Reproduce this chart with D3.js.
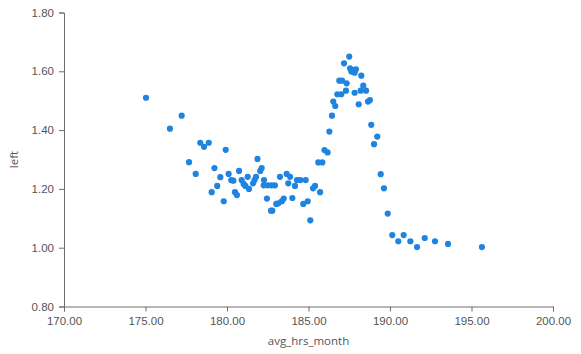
<!DOCTYPE html>
<html>
<head>
<meta charset="utf-8">
<script src="https://cdn.jsdelivr.net/npm/d3@7"></script>
<style>
  body { margin: 0; background: #fff; }
  svg { display: block; font-family: 'Open Sans', 'Noto Sans', sans-serif; }
  .tick text { fill: #555; font-size: 11.5px; }
  .axis path, .axis line { stroke: #6f6f6f; }
</style>
</head>
<body>
<svg id="chart" width="581" height="354"></svg>
<script>
// avg_hrs_month vs left
const hrs = [
  175.03, 177.22, 176.50, 178.36, 178.88, 178.59, 179.92, 177.67, 179.23, 178.08,
  180.10, 180.74, 179.59, 180.26, 180.39, 180.90, 179.40, 181.02, 181.13, 179.06,
  180.49, 180.61, 179.80, 181.87, 182.13, 182.04, 181.27, 181.78, 181.69, 181.60,
  181.35, 182.27, 182.25, 182.50, 182.74, 182.94, 183.25, 183.66, 183.87, 183.76,
  184.29, 184.50, 184.83, 184.17, 185.40, 185.28, 185.71, 182.45, 183.48, 183.36,
  183.02, 183.15, 184.01, 184.95, 184.68, 182.70, 182.78, 185.11, 185.60, 185.85,
  185.98, 186.17, 187.50, 187.18, 187.55, 187.75, 187.91, 187.63, 187.83, 188.24,
  186.89, 187.06, 187.34, 188.36, 187.30, 188.20, 188.53, 187.83, 186.77, 187.01,
  188.65, 188.77, 186.52, 186.64, 188.08, 186.44, 188.85, 186.28, 189.22, 189.02,
  189.43, 189.63, 189.86, 190.14, 190.51, 190.84, 191.25, 191.66, 192.13, 192.76,
  193.56, 195.64
]
const left = [
  1.510, 1.449, 1.405, 1.357, 1.357, 1.343, 1.333, 1.291, 1.271, 1.251,
  1.251, 1.261, 1.240, 1.230, 1.228, 1.230, 1.210, 1.217, 1.210, 1.189,
  1.189, 1.179, 1.158, 1.302, 1.271, 1.261, 1.241, 1.241, 1.230, 1.219,
  1.200, 1.230, 1.212, 1.212, 1.212, 1.212, 1.241, 1.251, 1.241, 1.219,
  1.230, 1.230, 1.230, 1.210, 1.210, 1.202, 1.189, 1.167, 1.167, 1.158,
  1.149, 1.151, 1.169, 1.158, 1.149, 1.126, 1.126, 1.093, 1.290, 1.290,
  1.332, 1.324, 1.650, 1.627, 1.610, 1.604, 1.607, 1.599, 1.595, 1.585,
  1.568, 1.568, 1.559, 1.551, 1.534, 1.534, 1.534, 1.527, 1.522, 1.522,
  1.497, 1.502, 1.497, 1.482, 1.488, 1.449, 1.418, 1.395, 1.378, 1.352,
  1.250, 1.202, 1.116, 1.043, 1.022, 1.043, 1.022, 1.002, 1.033, 1.022,
  1.013, 1.002
]
const xTicks = [170, 175, 180, 185, 190, 195, 200]
const yTicks = [0.8, 1.0, 1.2, 1.4, 1.6, 1.8]

const svg = d3.select('#chart')
const margin = { top: 12.5, right: 28, bottom: 47.5, left: 64 }
const width = 581 - margin.left - margin.right
const height = 354 - margin.top - margin.bottom

const x = d3.scaleLinear().domain([170, 200]).range([0, width])
const y = d3.scaleLinear().domain([0.8, 1.8]).range([height, 0])

const g = svg.append('g')
  .attr('transform', 'translate(' + [margin.left, margin.top].join(',') + ')')

g.append('g')
  .attr('class', 'axis')
  .attr('transform', 'translate(0,' + height + ')')
  .call(d3.axisBottom(x).tickValues(xTicks).tickFormat(d3.format('.2f')).tickSizeOuter(0).tickSize(5).tickPadding(5))

g.append('g')
  .attr('class', 'axis')
  .call(d3.axisLeft(y).tickValues(yTicks).tickFormat(d3.format('.2f')).tickSizeOuter(0).tickSize(5).tickPadding(5))

g.selectAll('circle.dot')
  .data(hrs.map((h, i) => ({ h: h, l: left[i] })))
  .join('circle')
  .attr('class', 'dot')
  .attr('cx', d => x(d.h))
  .attr('cy', d => y(d.l))
  .attr('r', 3.1)
  .attr('fill', '#1f84e0')

// axis titles
svg.append('text')
  .attr('x', margin.left + width / 2)
  .attr('y', 345)
  .attr('text-anchor', 'middle')
  .attr('fill', '#555')
  .style('font-size', '11.5px')
  .text('avg_hrs_month')

svg.append('text')
  .attr('transform', 'translate(18,' + (margin.top + height / 2) + ') rotate(-90)')
  .attr('text-anchor', 'middle')
  .attr('fill', '#555')
  .style('font-size', '11.5px')
  .text('left')
</script>
</body>
</html>
